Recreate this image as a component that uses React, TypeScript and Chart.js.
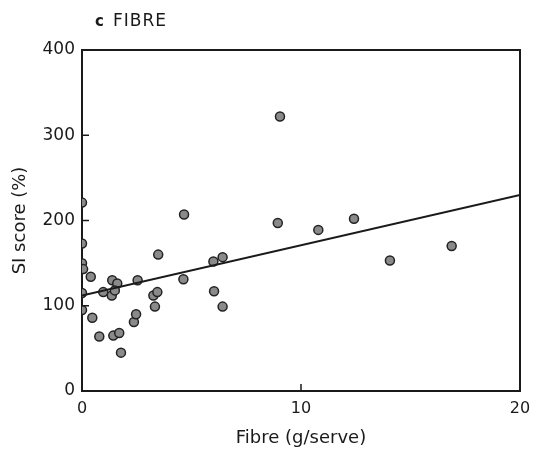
import React, { useEffect, useRef } from "react";
import { Chart, registerables } from "chart.js";

Chart.register(...registerables);

const fibreX: number[] = [0, 0, 0, 0.05, 0.4, 0, 0, 0.47, 0.79, 0.97, 1.38, 1.61, 1.36, 1.5, 1.43, 1.7, 1.78, 2.54, 2.37, 2.47, 3.48, 3.26, 3.44, 3.33, 4.66, 4.63, 9.04, 8.94, 10.79, 12.42, 6.0, 6.42, 6.03, 6.42, 14.06, 16.88];
const siScore: number[] = [221, 173, 150, 143, 134, 115, 95, 86, 64, 116, 130, 126, 112, 118, 65, 68, 45, 130, 81, 90, 160, 112, 116, 99, 207, 131, 322, 197, 189, 202, 152, 157, 117, 99, 153, 170];
const fitX: number[] = [0, 20];
const fitY: number[] = [112, 230];
const xTicks: number[] = [0, 10, 20];
const yTicks: number[] = [0, 100, 200, 300, 400];

const FONT = "'DejaVu Sans', 'Liberation Sans', sans-serif";
const INK = "#1a1a1a";

const framePlugin = {
  id: "frame",
  afterDraw(chart: any) {
    const { ctx, chartArea } = chart;
    const { left, right, top, bottom } = chartArea;
    const xs = chart.scales.x;
    const ys = chart.scales.y;
    ctx.save();
    ctx.strokeStyle = INK;
    ctx.lineWidth = 2;
    ctx.beginPath();
    ctx.moveTo(left, top);
    ctx.lineTo(right, top);
    ctx.lineTo(right, bottom);
    ctx.stroke();
    // inward tick marks
    ctx.lineWidth = 1.5;
    ctx.beginPath();
    [100, 200, 300].forEach((v) => {
      const y = ys.getPixelForValue(v);
      ctx.moveTo(left, y);
      ctx.lineTo(left + 7, y);
    });
    const x10 = xs.getPixelForValue(10);
    ctx.moveTo(x10, bottom);
    ctx.lineTo(x10, bottom - 7);
    ctx.stroke();
    // panel title
    ctx.fillStyle = INK;
    ctx.textBaseline = "alphabetic";
    ctx.font = `bold 15px ${FONT}`;
    ctx.fillText("c", 95, 26);
    ctx.font = `17px ${FONT}`;
    (ctx as any).letterSpacing = "1px";
    ctx.fillText("FIBRE", 113, 26);
    ctx.restore();
  },
};

export default function App() {
  const ref = useRef<HTMLCanvasElement | null>(null);
  useEffect(() => {
    if (!ref.current) return;
    const chart = new Chart(ref.current, {
      type: "scatter",
      data: {
        datasets: [
          {
            type: "line" as any,
            data: fitX.map((x, i) => ({ x, y: fitY[i] })),
            borderColor: INK,
            borderWidth: 2,
            pointRadius: 0,
            fill: false,
          },
          {
            data: fibreX.map((x, i) => ({ x, y: siScore[i] })),
            pointRadius: 4.5,
            pointBackgroundColor: "#8a8a8a",
            pointBorderColor: "#222",
            pointBorderWidth: 1.5,
          },
        ],
      },
      plugins: [framePlugin],
      options: {
        responsive: false,
        animation: false,
        layout: { padding: { top: 50, right: 14, left: 0, bottom: 0 } },
        plugins: { legend: { display: false }, tooltip: { enabled: false } },
        scales: {
          x: {
            type: "linear",
            min: 0,
            max: 20,
            afterFit: (s: any) => { s.height = 63; s.paddingRight = 0; s.paddingLeft = 0; },
            afterBuildTicks: (s: any) => { s.ticks = xTicks.map((v) => ({ value: v })); },
            grid: { display: false, drawTicks: false },
            border: { display: true, color: INK, width: 2 },
            ticks: { color: INK, font: { family: FONT, size: 16 }, padding: 8, maxRotation: 0 },
            title: { display: true, text: "Fibre (g/serve)", color: INK, font: { family: FONT, size: 18 }, padding: { top: 0, bottom: 5 } },
          },
          y: {
            type: "linear",
            min: 0,
            max: 400,
            afterFit: (s: any) => { s.width = 82; s.paddingTop = 0; s.paddingBottom = 0; },
            afterBuildTicks: (s: any) => { s.ticks = yTicks.map((v) => ({ value: v })); },
            grid: { display: false, drawTicks: false },
            border: { display: true, color: INK, width: 2 },
            ticks: { color: INK, font: { family: FONT, size: 17 }, padding: 7 },
            title: { display: true, text: "SI score (%)", color: INK, font: { family: FONT, size: 18 }, padding: { top: 10, bottom: 0 } },
          },
        },
      },
    });
    return () => chart.destroy();
  }, []);
  return (
    <div style={{ position: "absolute", left: 0, top: 0, width: 534, height: 454, background: "#fff" }}>
      <canvas ref={ref} width={534} height={454} />
    </div>
  );
}
